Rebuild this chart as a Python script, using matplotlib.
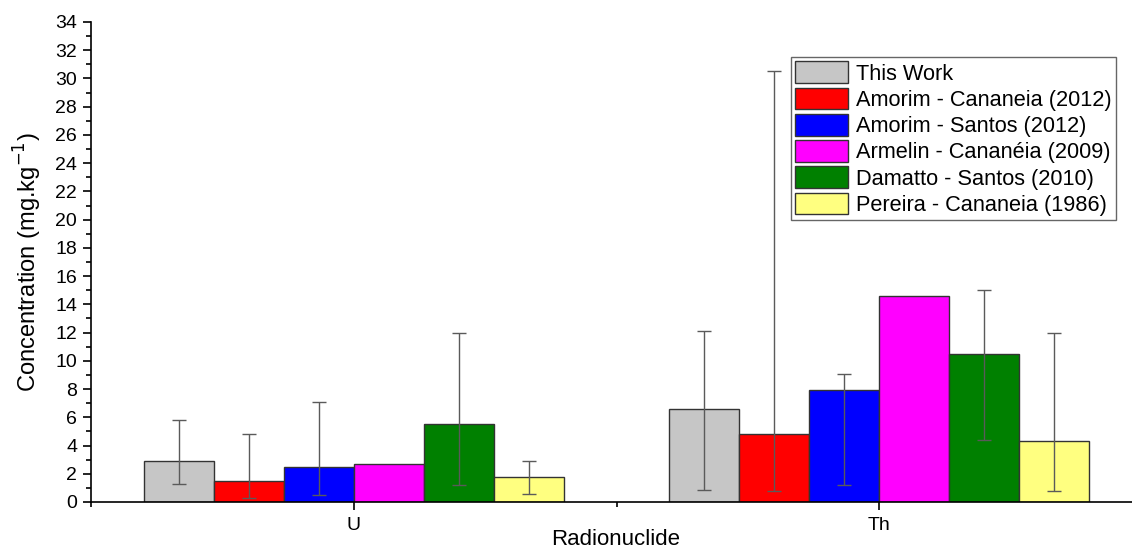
import numpy as np
import matplotlib
matplotlib.use('Agg')
import matplotlib.pyplot as plt
from matplotlib.ticker import MultipleLocator, FixedLocator

plt.rcParams['font.family'] = ['Liberation Sans', 'DejaVu Sans']

radionuclides = ['U', 'Th']
series = ['This Work', 'Amorim - Cananeia (2012)', 'Amorim - Santos (2012)',
          'Armelin - Cananéia (2009)', 'Damatto - Santos (2010)', 'Pereira - Cananeia (1986)']
colors = ['#C6C6C6', '#FF0000', '#0000FF', '#FF00FF', '#008000', '#FFFF80']

# concentration per series: [U, Th]
values = [[2.9, 6.6], [1.5, 4.8], [2.5, 7.9], [2.7, 14.6], [5.5, 10.5], [1.8, 4.3]]
# error range lower / upper ends (None = no bar)
err_low = [[1.3, 0.85], [0.3, 0.8], [0.5, 1.2], [None, None], [1.2, 4.4], [0.6, 0.8]]
err_high = [[5.8, 12.1], [4.8, 30.5], [7.1, 9.1], [None, None], [12.0, 15.0], [2.9, 12.0]]

fig = plt.figure(figsize=(11.32, 5.51), dpi=100)
ax = fig.add_axes([91/1132, 49/551, 1051/1132, 480/551])

x = np.arange(1, len(radionuclides) + 1)
n = len(series)
w = 0.8 / n
for i in range(n):
    xs = x - 0.4 + w * (i + 0.5)
    ax.bar(xs, values[i], width=w, color=colors[i], edgecolor='#333333',
           linewidth=1.0, label=series[i], zorder=2)
    for j in range(len(x)):
        if err_low[i][j] is None:
            continue
        v = values[i][j]
        ax.errorbar(xs[j], v, yerr=[[v - err_low[i][j]], [err_high[i][j] - v]],
                    fmt='none', ecolor='#5a5a5a', elinewidth=1.0, capsize=5,
                    capthick=1.0, zorder=3)

ax.set_xlim(0.5, 2.5)
ax.set_ylim(0, 34)
ax.set_xticks(x)
ax.set_xticklabels(radionuclides)
ax.xaxis.set_minor_locator(FixedLocator([0.5, 1.5, 2.5]))
ax.yaxis.set_major_locator(MultipleLocator(2))
ax.yaxis.set_minor_locator(MultipleLocator(1))
ax.tick_params(axis='both', which='major', direction='out', length=6, width=1.2,
               labelsize=14, pad=4)
ax.tick_params(axis='both', which='minor', direction='out', length=3.5, width=1.2)
ax.tick_params(axis='x', which='major', pad=5)
for s in ['top', 'right']:
    ax.spines[s].set_visible(False)
for s in ['left', 'bottom']:
    ax.spines[s].set_linewidth(1.2)

ax.set_xlabel('Radionuclide', fontsize=16)
ax.xaxis.set_label_coords((616 - 91) / 1051, -27 / 480)
ax.set_ylabel('Concentration (mg.kg$^{-1}$)', fontsize=17, labelpad=8)

leg = ax.legend(loc='upper left', bbox_to_anchor=(791/1132, 1 - 57/551),
                bbox_transform=fig.transFigure, fontsize=15.7, frameon=True,
                fancybox=False, edgecolor='#666666', framealpha=1,
                handlelength=2.4, handleheight=1.15, labelspacing=0.14,
                handletextpad=0.37, borderpad=0.2, borderaxespad=0)
leg.get_frame().set_linewidth(1.0)

fig.savefig('out.png', dpi=100)
